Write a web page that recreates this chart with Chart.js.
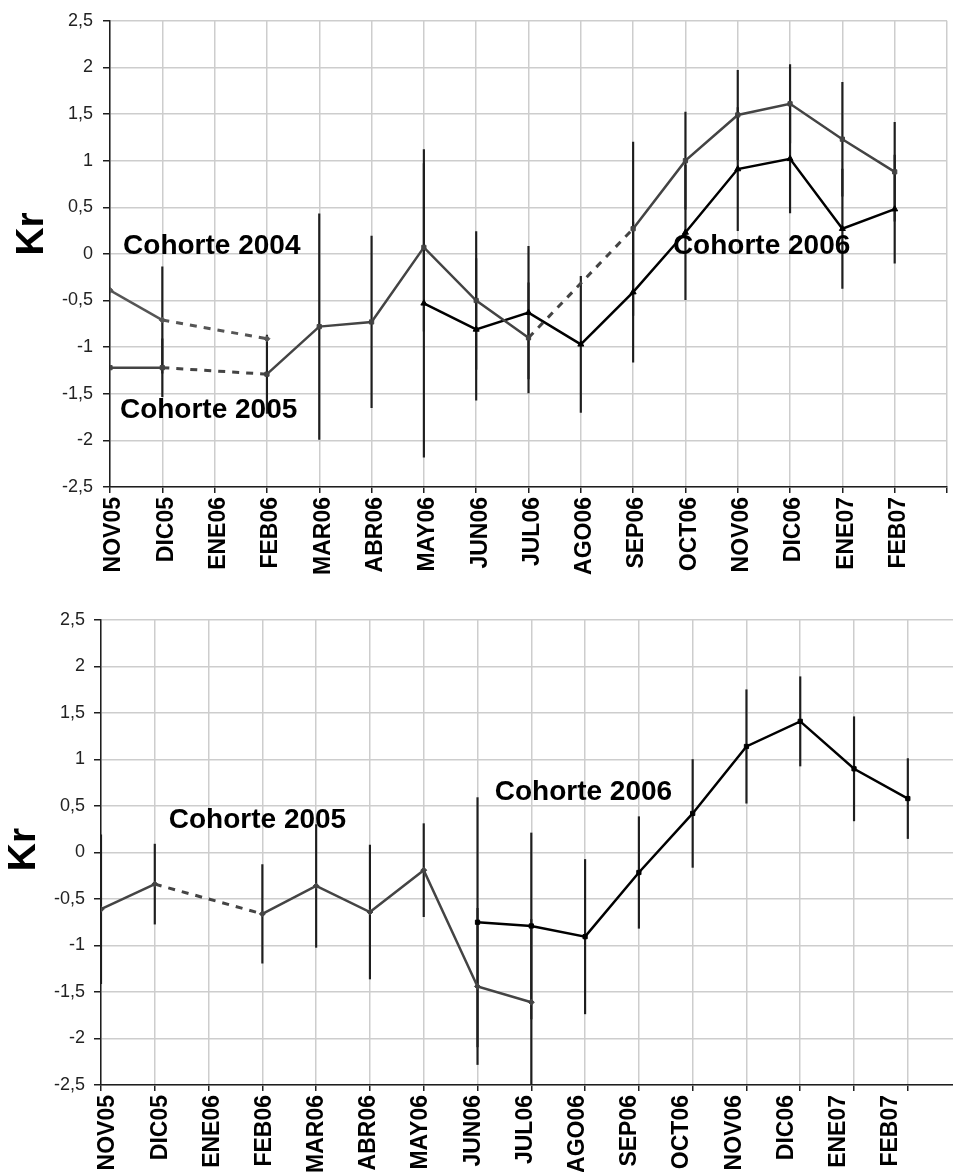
<!DOCTYPE html>
<html>
<head>
<meta charset="utf-8">
<title>Kr por cohorte</title>
<script src="https://cdn.jsdelivr.net/npm/chart.js@4.4.1/dist/chart.umd.min.js"></script>
<style>
  html, body { margin: 0; padding: 0; background: #fff; overflow: hidden; }
  .panel { position: relative; width: 953px; }
  canvas { display: block; }
</style>
</head>
<body>
<div class="panel"><canvas id="chartTop" width="953" height="600"></canvas></div>
<div class="panel"><canvas id="chartBottom" width="953" height="572"></canvas></div>
<script>
// Sampling months (x axis categories)
const months = ['NOV05','DIC05','ENE06','FEB06','MAR06','ABR06','MAY06','JUN06',
                'JUL06','AGO06','SEP06','OCT06','NOV06','DIC06','ENE07','FEB07'];

// Upper panel: Kr by cohort (null = month not sampled)
const top2004 = [-0.39, -0.71, null, -0.91, null, null, null, null,
                 null, null, null, null, null, null, null, null];
const top2005 = [-1.22, -1.22, null, -1.29, -0.78, -0.73, 0.07, -0.50,
                 -0.90, null, 0.27, 1.00, 1.49, 1.61, 1.23, 0.88];
const top2006 = [null, null, null, null, null, null, -0.53, -0.81,
                 -0.63, -0.97, -0.41, 0.23, 0.91, 1.02, 0.27, 0.48];
// Upper panel: half-width of the error bars
const top2004Err = [null, 0.57, null, null, null, null, null, null,
                    null, null, null, null, null, null, null, null];
const top2005Err = [null, 0.31, null, 0.42, 1.21, 0.92, 0.90, 0.74,
                    0.59, null, 0.93, 0.52, 0.48, 0.42, 0.61, 0.53];
const top2006Err = [null, null, null, null, null, null, 1.65, 0.76,
                    0.71, 0.73, 0.75, 0.72, 0.66, 0.58, 0.64, 0.58];

// Lower panel: Kr by cohort
const bottom2005 = [-0.61, -0.34, null, -0.66, -0.36, -0.64, -0.19, -1.44,
                    -1.61, null, null, null, null, null, null, null];
const bottom2006 = [null, null, null, null, null, null, null, -0.75,
                    -0.79, -0.905, -0.215, 0.42, 1.14, 1.41, 0.90, 0.58];
const bottom2005Err = [0.80, 0.43, null, 0.53, 0.66, 0.72, 0.50, 0.84,
                       0.89, null, null, null, null, null, null, null];
const bottom2006Err = [null, null, null, null, null, null, null, 1.34,
                       1.00, 0.83, 0.60, 0.58, 0.61, 0.48, 0.56, 0.43];

// Cohort labels, anchored in data units (month index, Kr)
const topNotes = [
  { text: 'Cohorte 2004', x: 0.25, y: 0.08 },
  { text: 'Cohorte 2005', x: 0.19, y: -1.675 },
  { text: 'Cohorte 2006', x: 10.76, y: 0.08 }
];
const bottomNotes = [
  { text: 'Cohorte 2005', x: 1.26, y: 0.345 },
  { text: 'Cohorte 2006', x: 7.32, y: 0.645 }
];

const FONT = '"Liberation Sans", Arial, Helvetica, sans-serif';
const GRID = '#cdcdcd';
const INK = '#1e1e1e';

const toPoints = vals => vals.map((v, i) => ({ x: i, y: v }));
const toBars = (vals, errs) => vals
  .map((v, i) => (v == null || errs[i] == null) ? null : { x: i, y: [v - errs[i], v + errs[i]] })
  .filter(Boolean);

// Segments that bridge a missing month are dashed
const bridged = (ctx, value) => (ctx.p0.skip || ctx.p1.skip) ? value : undefined;

function lineSet(label, vals, color, style, radius) {
  return {
    type: 'line', label, data: toPoints(vals), order: 1,
    borderColor: color, backgroundColor: color, borderWidth: 2.5,
    pointStyle: style, pointRadius: radius, pointBorderWidth: 1,
    pointBackgroundColor: color, pointBorderColor: color,
    spanGaps: true, tension: 0,
    segment: {
      borderDash: ctx => bridged(ctx, [7, 7]),
      borderWidth: ctx => bridged(ctx, 3)
    }
  };
}

function errorSet(vals, errs) {
  return {
    type: 'bar', data: toBars(vals, errs), order: 2,
    backgroundColor: INK, borderWidth: 0,
    barThickness: 1.5, grouped: false
  };
}

const labelsPlugin = {
  id: 'cohortLabels',
  afterDatasetsDraw(chart, args, opts) {
    const { ctx, chartArea } = chart;
    const xs = chart.scales.x, ys = chart.scales.y;
    ctx.save();
    ctx.fillStyle = '#000';
    ctx.font = 'bold 28px ' + FONT;
    ctx.textAlign = 'left';
    ctx.textBaseline = 'middle';
    (opts.items || []).forEach(n => {
      ctx.fillText(n.text, xs.getPixelForValue(n.x), ys.getPixelForValue(n.y));
    });
    // Axis title
    ctx.font = 'bold 39px ' + FONT;
    ctx.textAlign = 'center';
    ctx.translate(opts.titleX, (chartArea.top + chartArea.bottom) / 2 + opts.titleDy);
    ctx.rotate(-Math.PI / 2);
    ctx.fillText(opts.title, 0, 0);
    ctx.restore();
  }
};

const monthTicks = (padding, labelOffset) => ({
  stepSize: 1, autoSkip: false, maxTicksLimit: 40, includeBounds: false,
  minRotation: 90, maxRotation: 90, padding, labelOffset,
  color: '#000', font: { family: FONT, size: 23, weight: 'bold' },
  callback: v => months[v] !== undefined ? months[v] : ''
});

const noSidePadding = s => { s.paddingLeft = 0; s.paddingRight = 0; };

function makeChart(canvasId, datasets, cfg) {
  const split = !!cfg.labelRange;
  const scales = {
    x: {
      type: 'linear', position: 'bottom', weight: 0,
      min: 0, max: cfg.xMax, bounds: 'data', offset: false,
      grid: { color: GRID, lineWidth: 1.5, tickColor: INK, tickLength: 6, offset: false },
      border: { color: INK, width: 1.5 },
      ticks: Object.assign(monthTicks(4, 4), { display: !split }),
      afterFit: s => { s.height = split ? 6 : cfg.xHeight; noSidePadding(s); }
    },
    y: {
      type: 'linear', min: -2.5, max: 2.5,
      grid: { color: GRID, lineWidth: 1.5, tickColor: INK, tickLength: 7 },
      border: { color: INK, width: 1.5 },
      ticks: {
        stepSize: 0.5, padding: cfg.yPad, color: '#222',
        font: { family: FONT, size: 18 },
        callback: v => String(v).replace('.', ',')
      },
      afterFit: s => { s.width = cfg.yWidth; }
    }
  };
  if (split) {
    // Month names on their own axis, set just below the tick marks
    scales.months = {
      type: 'linear', axis: 'x', position: 'bottom', weight: 1,
      min: cfg.labelRange[0], max: cfg.labelRange[1], bounds: 'data', offset: false,
      grid: { display: false, drawTicks: false },
      border: { display: false },
      ticks: monthTicks(4, 0),
      afterBuildTicks: s => { s.ticks = months.map((m, i) => ({ value: i })); },
      afterFit: s => { s.height = cfg.xHeight - 6; noSidePadding(s); }
    };
  }
  return new Chart(document.getElementById(canvasId), {
    data: { datasets },
    plugins: [labelsPlugin],
    options: {
      responsive: false,
      animation: false,
      events: [],
      layout: { autoPadding: false, padding: { top: 20, left: 0, right: cfg.padRight, bottom: 0 } },
      plugins: {
        legend: { display: false },
        tooltip: { enabled: false },
        cohortLabels: { items: cfg.notes, title: 'Kr', titleX: cfg.titleX, titleDy: cfg.titleDy }
      },
      scales
    }
  });
}

makeChart('chartTop', [
  errorSet(top2004, top2004Err),
  errorSet(top2005, top2005Err),
  errorSet(top2006, top2006Err),
  lineSet('Cohorte 2004', top2004, '#555555', 'rectRot', 3),
  lineSet('Cohorte 2005', top2005, '#444444', 'rect', 3),
  lineSet('Cohorte 2006', top2006, '#000000', 'triangle', 3.5)
], {
  xMax: 16, padRight: 6, xHeight: 113, yWidth: 110, yPad: 10,
  notes: topNotes, titleX: 32, titleDy: -20
});

makeChart('chartBottom', [
  errorSet(bottom2005, bottom2005Err),
  errorSet(bottom2006, bottom2006Err),
  lineSet('Cohorte 2005', bottom2005, '#444444', 'rectRot', 3),
  lineSet('Cohorte 2006', bottom2006, '#000000', 'rect', 3)
], {
  xMax: 15.84, padRight: 0, xHeight: 87, yWidth: 101, yPad: 9,
  labelRange: [-0.134, 16.19],
  notes: bottomNotes, titleX: 24, titleDy: -3
});
</script>
</body>
</html>
